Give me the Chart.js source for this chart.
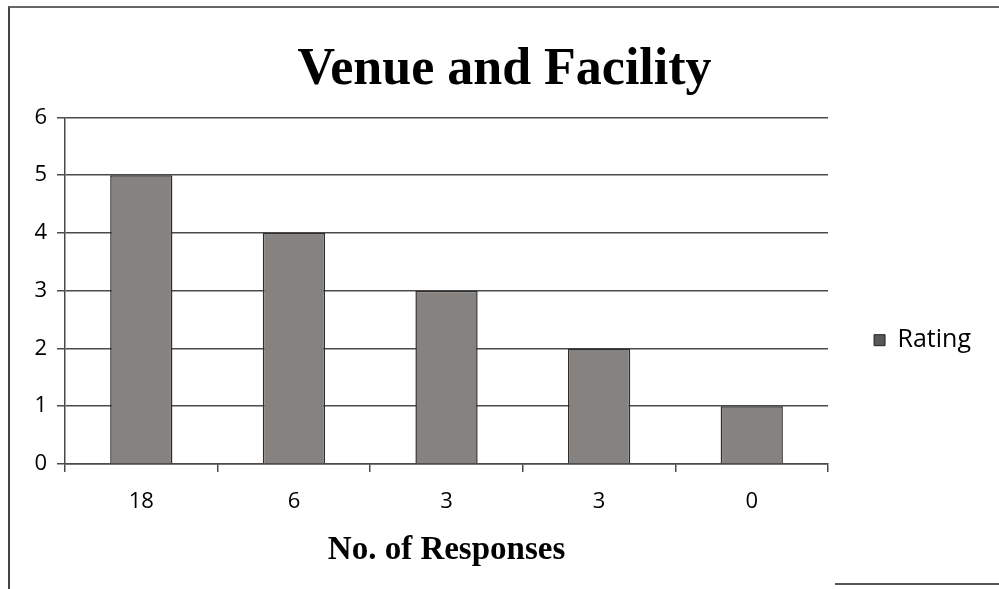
<!DOCTYPE html>
<html>
<head>
<meta charset="utf-8">
<script src="https://cdn.jsdelivr.net/npm/chart.js@4/dist/chart.umd.min.js"></script>
<style>
  html, body { margin: 0; padding: 0; background: #fff; }
  #wrap { position: relative; width: 999px; height: 589px; }
  #frame { position: absolute; left: 8px; top: 6px; width: 991px; height: 583px;
           border-left: 2px solid #444; border-top: 2px solid #666; box-sizing: border-box; pointer-events: none; }
  #frameBottom { position: absolute; left: 835px; top: 583px; width: 164px; height: 0;
           border-top: 2px solid #555; pointer-events: none; }
</style>
</head>
<body>
<div id="wrap">
  <canvas id="c" width="999" height="589"></canvas>
  <div id="frame"></div>
  <div id="frameBottom"></div>
</div>
<script>
const categories = ["18", "6", "3", "3", "0"];
const ratingValues = [5, 4, 3, 2, 1];
const yTicks = [0, 1, 2, 3, 4, 5, 6];
const seriesName = "Rating";
const chartTitle = "Venue and Facility";
const xAxisTitle = "No. of Responses";

const gridColor = "#4a4a4a";

new Chart(document.getElementById("c"), {
  type: "bar",
  data: {
    labels: categories,
    datasets: [{
      label: seriesName,
      data: ratingValues,
      backgroundColor: "#858280",
      borderColor: "#2e2e2e",
      borderWidth: 1.5,
      barPercentage: 0.51,
      categoryPercentage: 0.8,
      yAxisID: "y"
    }]
  },
  options: {
    responsive: false,
    animation: false,
    devicePixelRatio: 1,
    layout: { padding: { top: 0, left: 28, right: 18, bottom: 19 } },
    plugins: {
      title: {
        display: true,
        text: chartTitle,
        color: "#000",
        font: { family: "Liberation Serif", size: 52, weight: "bold" },
        padding: { top: 39, bottom: 16 }
      },
      legend: {
        position: "right",
        title: { display: true, text: " ", padding: { top: 0, bottom: 96 }, font: { size: 12 } },
        labels: {
          color: "#000",
          boxWidth: 11,
          boxHeight: 11,
          font: { family: "Open Sans", size: 25 },
          padding: 25,
          generateLabels: (chart) => [{
            text: seriesName,
            fillStyle: "#5a5856",
            strokeStyle: "#222",
            fontColor: "#000",
            lineWidth: 1,
            datasetIndex: 0
          }]
        }
      },
      tooltip: { enabled: false }
    },
    scales: {
      x: {
        grid: { display: true, drawOnChartArea: false, drawTicks: true, tickLength: 8, color: gridColor, lineWidth: 1.5 },
        border: { color: gridColor, width: 1.5 },
        ticks: { color: "#000", font: { family: "Open Sans", size: 22 }, padding: 17 },
        title: {
          display: true,
          text: xAxisTitle,
          color: "#000",
          font: { family: "Liberation Serif", size: 33, weight: "bold" },
          padding: { top: -2, bottom: 0 }
        }
      },
      y: {
        min: 0,
        max: 6,
        afterBuildTicks: (axis) => { axis.ticks = yTicks.map(v => ({ value: v })); },
        grid: { color: gridColor, lineWidth: 1.5, tickLength: 8 },
        border: { color: gridColor, width: 1.5 },
        ticks: { color: "#000", font: { family: "Open Sans", size: 22 }, padding: 10 },
        afterFit: (s) => { s.width = 37; }
      },
      yPad: {
        position: "right",
        min: 0,
        max: 6,
        grid: { display: false, drawTicks: false },
        border: { display: false },
        ticks: { display: false },
        afterFit: (s) => { s.width = 21; }
      }
    }
  }
});
</script>
</body>
</html>
